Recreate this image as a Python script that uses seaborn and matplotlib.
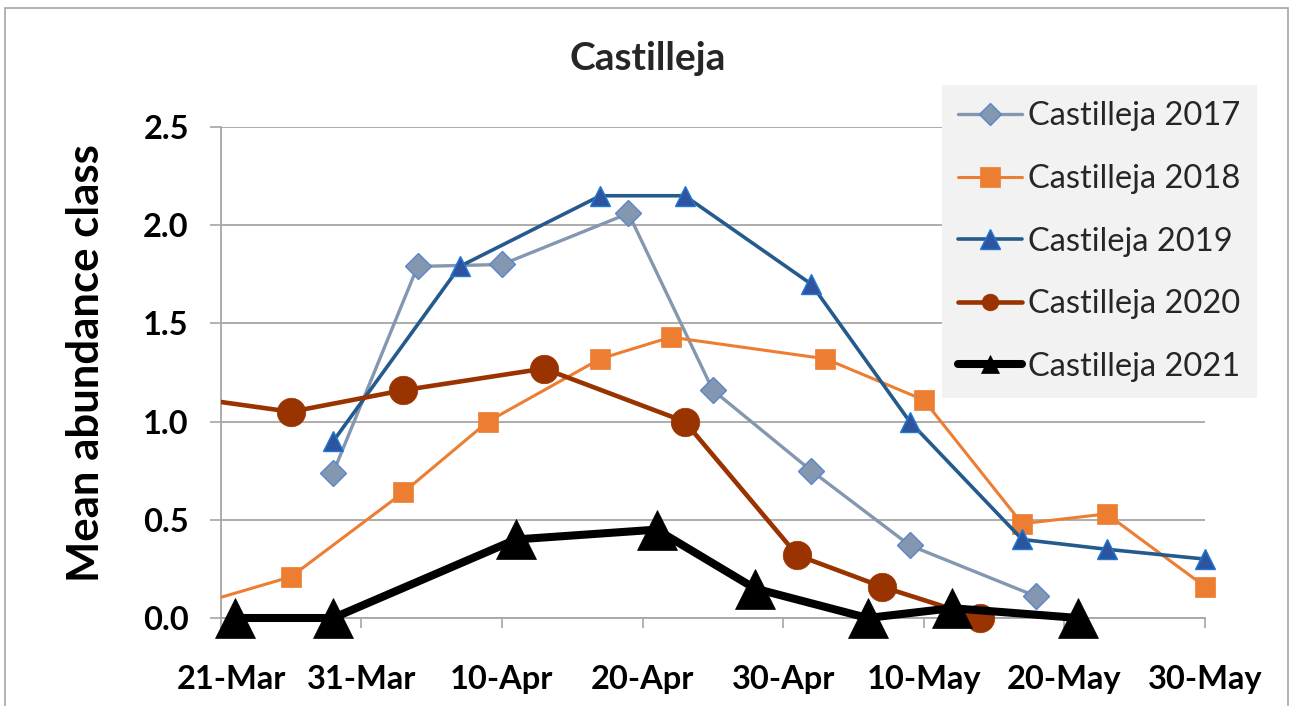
import numpy as np
import pandas as pd
import matplotlib
matplotlib.use("Agg")
import matplotlib.pyplot as plt
import matplotlib.transforms as mtrans
from matplotlib.patches import Rectangle
from matplotlib.lines import Line2D
import seaborn as sns

# ---------------- data ----------------
YEAR = "2021"
series_names = ["Castilleja 2017", "Castilleja 2018", "Castileja 2019",
                "Castilleja 2020", "Castilleja 2021"]

dates_2017 = ["03-29", "04-04", "04-10", "04-19", "04-25", "05-02", "05-09", "05-18"]
vals_2017 = [0.74, 1.79, 1.80, 2.06, 1.16, 0.75, 0.37, 0.11]

dates_2018 = ["03-16", "03-26", "04-03", "04-09", "04-17", "04-22", "05-03", "05-10",
              "05-17", "05-23", "05-30"]
vals_2018 = [0.0, 0.21, 0.64, 1.00, 1.32, 1.43, 1.32, 1.11, 0.48, 0.53, 0.16]

dates_2019 = ["03-29", "04-07", "04-17", "04-23", "05-02", "05-09", "05-17", "05-23", "05-30"]
vals_2019 = [0.90, 1.79, 2.15, 2.15, 1.70, 1.00, 0.40, 0.35, 0.30]

dates_2020 = ["03-19", "03-26", "04-03", "04-13", "04-23", "05-01", "05-07", "05-14"]
vals_2020 = [1.12, 1.05, 1.16, 1.27, 1.00, 0.32, 0.16, 0.0]

dates_2021 = ["03-22", "03-29", "04-11", "04-21", "04-28", "05-06", "05-12", "05-21"]
vals_2021 = [0.0, 0.0, 0.40, 0.45, 0.15, 0.0, 0.05, 0.0]

x_tick_dates = ["03-21", "03-31", "04-10", "04-20", "04-30", "05-10", "05-20", "05-30"]
x_tick_labels = ["21-Mar", "31-Mar", "10-Apr", "20-Apr", "30-Apr", "10-May", "20-May", "30-May"]
y_ticks = [0.0, 0.5, 1.0, 1.5, 2.0, 2.5]

title = "Castilleja"
y_label = "Mean abundance class"

# ---------------- styles ----------------
styles = [
    dict(line="#8497B0", face="#8497B0", edge="#5B86CC", marker="D", ms=13.5, lw=2.4, mew=1.0,
         lg_ms=11, lg_lw=2.4),
    dict(line="#ED7D31", face="#ED7D31", edge="#ED7D31", marker="s", ms=14, lw=2.2, mew=0.5,
         lg_ms=14, lg_lw=2.2),
    dict(line="#245A8C", face="#2E54A0", edge="#1E7AD2", marker="^", ms=14, lw=2.6, mew=1.0,
         lg_ms=14, lg_lw=2.6),
    dict(line="#993300", face="#993300", edge="#993300", marker="o", ms=20.5, lw=3.3, mew=0.5,
         lg_ms=12, lg_lw=3.3),
    dict(line="#000000", face="#000000", edge="#000000", marker="^", ms=29, lw=5.8, mew=0.5,
         lg_ms=13, lg_lw=5.8),
]

all_dates = [dates_2017, dates_2018, dates_2019, dates_2020, dates_2021]
all_vals = [vals_2017, vals_2018, vals_2019, vals_2020, vals_2021]

frames = []
for name, ds, vs in zip(series_names, all_dates, all_vals):
    frames.append(pd.DataFrame({"date": pd.to_datetime([f"{YEAR}-{d}" for d in ds]),
                                "value": vs, "series": name}))
df = pd.concat(frames, ignore_index=True)

# ---------------- figure ----------------
sns.set_theme(style="white")
plt.rcParams["font.family"] = ["Lato", "DejaVu Sans"]

W, H = 1292, 706
fig = plt.figure(figsize=(W / 100, H / 100), dpi=100)
fig.patch.set_facecolor("white")
ax_left, ax_right, ax_top, ax_bot = 220.7, 1205.0, 127.0, 618.0
ax = fig.add_axes([ax_left / W, 1 - ax_bot / H, (ax_right - ax_left) / W, (ax_bot - ax_top) / H])
ax.set_facecolor("white")

xmin = pd.Timestamp(f"{YEAR}-{x_tick_dates[0]}")
xmax = pd.Timestamp(f"{YEAR}-{x_tick_dates[-1]}")

clip_rect = Rectangle((0, -0.15), 1.0, 1.3, transform=ax.transAxes, facecolor="none", edgecolor="none")

for i, (name, st) in enumerate(zip(series_names, styles)):
    sub = df[df["series"] == name]
    n_before = len(ax.lines)
    # connecting line (clipped at the left/right plot edges)
    sns.lineplot(data=sub, x="date", y="value", ax=ax, color=st["line"], linewidth=st["lw"],
                 estimator=None, sort=True, legend=False, zorder=3 + i * 2,
                 solid_joinstyle="round", solid_capstyle="butt")
    for ln in ax.lines[n_before:]:
        ln.set_clip_path(clip_rect)
    # markers (only those inside the date window, not clipped)
    inside = sub[(sub["date"] >= xmin) & (sub["date"] <= xmax)]
    n_before = len(ax.lines)
    sns.lineplot(data=inside, x="date", y="value", ax=ax, color=st["line"], linestyle="",
                 marker=st["marker"], markersize=st["ms"], markerfacecolor=st["face"],
                 markeredgecolor=st["edge"], markeredgewidth=st["mew"],
                 estimator=None, legend=False, zorder=4 + i * 2)
    for ln in ax.lines[n_before:]:
        ln.set_clip_on(False)

# axes limits and ticks
ax.set_xlim(xmin, xmax)
ax.set_ylim(0, 2.5)
ax.set_yticks(y_ticks)
ax.set_yticklabels([f"{v:.1f}" for v in y_ticks])
tick_pos = pd.to_datetime([f"{YEAR}-{d}" for d in x_tick_dates])
ax.set_xticks(tick_pos)
ax.set_xticklabels(x_tick_labels)

ax.set_xlabel("")
ax.set_ylabel(y_label, fontsize=31.5, fontweight="bold", color="black")
ax.yaxis.set_label_coords((106 - ax_left) / (ax_right - ax_left), 0.52)

grid_col = "#A6A6A6"
ax.yaxis.grid(True, color=grid_col, linewidth=1.3)
ax.xaxis.grid(False)
ax.set_axisbelow(True)
for s in ["top", "right"]:
    ax.spines[s].set_visible(False)
for s in ["left", "bottom"]:
    ax.spines[s].set_visible(True)
    ax.spines[s].set_color(grid_col)
    ax.spines[s].set_linewidth(1.3)

ax.tick_params(axis="x", direction="out", length=7, width=1.2, color=grid_col, pad=27,
               labelsize=23.5, labelcolor="black", bottom=True)
ax.tick_params(axis="y", direction="out", length=8, width=1.2, color=grid_col, pad=15,
               labelsize=23.5, labelcolor="black", left=True)
for lbl in ax.get_xticklabels() + ax.get_yticklabels():
    lbl.set_fontweight("bold")

# first x label sits slightly to the right, as in the original
first = ax.get_xticklabels()[0]
first.set_transform(first.get_transform() + mtrans.ScaledTranslation(11 / 100, 0, fig.dpi_scale_trans))

# title
fig.text(648 / W, 1 - 58 / H, title, ha="center", va="center", fontsize=28, fontweight="bold")

# legend
handles = []
for name, st in zip(series_names, styles):
    handles.append(Line2D([0], [0], color=st["line"], linewidth=st["lg_lw"], marker=st["marker"],
                          markersize=st["lg_ms"], markerfacecolor=st["face"],
                          markeredgecolor=st["edge"], markeredgewidth=st["mew"],
                          solid_capstyle="round"))
leg = fig.legend(handles, series_names, loc="upper left",
                 bbox_to_anchor=(942 / W, 1 - 85 / H), bbox_transform=fig.transFigure,
                 borderaxespad=0, frameon=True, fancybox=False, fontsize=23.5,
                 handlelength=1.95, handletextpad=0.2, labelspacing=1.0,
                 borderpad=0.5, facecolor="#F2F2F2", edgecolor="#F2F2F2", framealpha=1.0)
leg.get_frame().set_linewidth(0)

# outer chart border
fig.patches.append(Rectangle((5 / W, -0.05), (1288 - 5) / W, 1.05 - 8 / H, transform=fig.transFigure,
                             fill=False, edgecolor="#A6A6A6", linewidth=1.2))

fig.savefig("out.png", dpi=100, facecolor="white")
